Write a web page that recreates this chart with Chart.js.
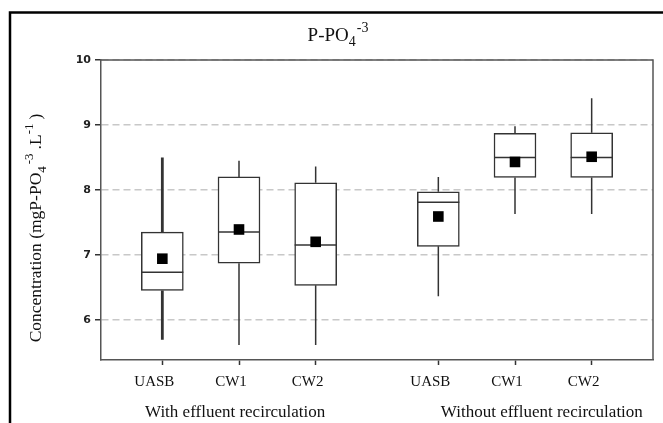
<!DOCTYPE html>
<html>
<head>
<meta charset="utf-8">
<script src="https://cdn.jsdelivr.net/npm/chart.js@4.4.1/dist/chart.umd.min.js"></script>
<style>
  html, body { margin: 0; background: #fff; overflow: hidden; }
  #wrap { width: 663px; height: 423px; }
  canvas { display: block; }
</style>
</head>
<body>
<div id="wrap"><canvas id="c"></canvas></div>
<script>
// data
const categories = ['UASB', 'CW1', 'CW2', 'UASB', 'CW1', 'CW2'];
const positions = [1, 2, 3, 4.6, 5.6, 6.6];
const groups = ['With effluent recirculation', 'Without effluent recirculation'];
const groupCenters = [1.95, 5.95];
const whiskerLow = [5.69, 5.61, 5.61, 6.36, 7.63, 7.63];
const q1 = [6.45, 6.87, 6.53, 7.13, 8.19, 8.19];
const median = [6.73, 7.35, 7.15, 7.81, 8.50, 8.50];
const q3 = [7.35, 8.20, 8.11, 7.97, 8.87, 8.88];
const whiskerHigh = [8.50, 8.45, 8.36, 8.20, 8.98, 9.41];
const means = [6.94, 7.39, 7.20, 7.59, 8.43, 8.51];
const yTicks = [6, 7, 8, 9, 10];

const serif = '"Liberation Serif", "Times New Roman", serif';

const boxData = positions.map((x, i) => ({ x: x, y: [q1[i], q3[i]] }));
const medianData = positions.map((x, i) => ({ x: x, y: median[i] }));
const meanData = positions.map((x, i) => ({ x: x, y: means[i] }));
const whiskerData = [];
positions.forEach((x, i) => {
  whiskerData.push({ x: x, y: whiskerHigh[i] }, { x: x, y: q3[i] }, { x: x, y: null });
  whiskerData.push({ x: x, y: q1[i] }, { x: x, y: whiskerLow[i] }, { x: x, y: null });
});

// text with sub/superscripts
function drawRich(ctx, segs, cx, cy, size) {
  const fontFor = s => (s.s ? Math.round(size * 0.72) : size) + 'px ' + serif;
  let total = 0;
  segs.forEach(s => { ctx.font = fontFor(s); total += ctx.measureText(s.t).width + (s.gap || 0); });
  let x = cx - total / 2;
  ctx.textAlign = 'left';
  ctx.textBaseline = 'alphabetic';
  segs.forEach(s => {
    ctx.font = fontFor(s);
    const dy = s.s === 'sub' ? size * 0.28 : s.s === 'sup' ? -size * 0.45 : 0;
    ctx.fillText(s.t, x, cy + dy);
    x += ctx.measureText(s.t).width + (s.gap || 0);
  });
}

const decor = {
  id: 'decor',
  afterDraw(chart) {
    const { ctx, chartArea: a, scales } = chart;
    ctx.save();
    // outer frame
    ctx.strokeStyle = '#000';
    ctx.lineWidth = 2.5;
    ctx.beginPath();
    ctx.moveTo(10, 423);
    ctx.lineTo(10, 12.5);
    ctx.lineTo(663, 12.5);
    ctx.stroke();
    // top and right plot border
    ctx.strokeStyle = '#555';
    ctx.lineWidth = 1.5;
    ctx.beginPath();
    ctx.moveTo(a.left, a.top);
    ctx.lineTo(a.right, a.top);
    ctx.lineTo(a.right, a.bottom);
    ctx.stroke();

    ctx.fillStyle = '#111';
    drawRich(ctx, [{ t: 'P-PO' }, { t: '4', s: 'sub', gap: 1 }, { t: '-3', s: 'sup' }], 338, 41, 19);

    ctx.save();
    ctx.translate(41, 228);
    ctx.rotate(-Math.PI / 2);
    drawRich(ctx, [
      { t: 'Concentration (mgP-PO' }, { t: '4', s: 'sub', gap: 2 }, { t: '-3', s: 'sup', gap: 4 },
      { t: '.L' }, { t: '-1', s: 'sup', gap: 4 }, { t: ')' }
    ], 0, 0, 17.5);
    ctx.restore();

    ctx.font = '17px ' + serif;
    ctx.textAlign = 'center';
    ctx.textBaseline = 'alphabetic';
    groups.forEach((g, i) => {
      ctx.fillText(g, scales.x.getPixelForValue(groupCenters[i]), 417);
    });
    ctx.restore();
  }
};

new Chart(document.getElementById('c'), {
  type: 'bar',
  data: {
    datasets: [
      {
        type: 'scatter',
        data: meanData,
        pointStyle: 'rect',
        pointRadius: 7.5,
        backgroundColor: '#000',
        borderColor: '#000',
        borderWidth: 0,
        order: 0
      },
      {
        type: 'scatter',
        data: medianData,
        pointStyle: 'line',
        pointRadius: 21,
        borderColor: '#333',
        borderWidth: 1.5,
        order: 1
      },
      {
        type: 'line',
        data: whiskerData,
        borderColor: '#333',
        borderWidth: 1.5,
        segment: { borderWidth: c => (c.p0.parsed.x === positions[0] ? 2.8 : 1.5) },
        pointRadius: 0,
        spanGaps: false,
        fill: false,
        order: 2
      },
      {
        type: 'bar',
        data: boxData,
        backgroundColor: '#fff',
        borderColor: '#333',
        borderWidth: 1.5,
        borderSkipped: false,
        barThickness: 42,
        order: 3
      }
    ]
  },
  options: {
    responsive: true,
    maintainAspectRatio: false,
    animation: false,
    layout: { autoPadding: false, padding: { top: 60, right: 10, left: 0, bottom: 0 } },
    plugins: { legend: { display: false }, tooltip: { enabled: false } },
    scales: {
      x: {
        type: 'linear',
        min: 0.2,
        max: 7.4,
        offset: false,
        afterBuildTicks: s => { s.ticks = positions.map(v => ({ value: v })); },
        afterFit: s => { s.height = 63; s.paddingLeft = 0; s.paddingRight = 0; },
        grid: { offset: false, drawOnChartArea: false, drawTicks: true, tickLength: 5, tickColor: '#333', tickWidth: 1.5 },
        border: { color: '#555', width: 1.5 },
        ticks: {
          autoSkip: false,
          maxRotation: 0,
          labelOffset: -8,
          padding: 8,
          color: '#111',
          font: { family: serif, size: 15 },
          callback: (v, i) => categories[i]
        }
      },
      y: {
        min: 5.38,
        max: 10,
        afterBuildTicks: s => { s.ticks = yTicks.map(v => ({ value: v })); },
        afterFit: s => { s.width = 101; s.paddingTop = 0; s.paddingBottom = 0; },
        grid: { color: '#c8c8c8', lineWidth: 1.5, tickColor: '#333', tickWidth: 1.5, tickLength: 6, tickBorderDash: [] },
        border: { color: '#555', width: 1.5, dash: [7, 4] },
        ticks: {
          padding: 4,
          color: '#222',
          font: { family: '"DejaVu Sans", Verdana, sans-serif', size: 11, weight: 'bold' }
        }
      }
    }
  },
  plugins: [decor]
});
</script>
</body>
</html>
